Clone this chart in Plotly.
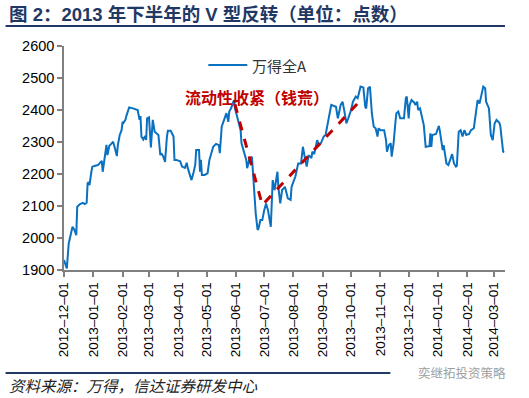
import plotly.graph_objects as go

# ---- data ----
dates = [
    "2012-12-01","2012-12-03","2012-12-04","2012-12-06","2012-12-08","2012-12-10","2012-12-12","2012-12-14",
    "2012-12-15","2012-12-18","2012-12-21","2012-12-23","2012-12-25","2012-12-26","2012-12-27","2012-12-28",
    "2012-12-30","2012-12-31",
    "2013-01-03","2013-01-06","2013-01-08","2013-01-10","2013-01-11","2013-01-13","2013-01-14","2013-01-15",
    "2013-01-16","2013-01-18","2013-01-20","2013-01-22","2013-01-24","2013-01-26","2013-01-27","2013-01-29",
    "2013-01-31",
    "2013-02-01","2013-02-02","2013-02-04","2013-02-05","2013-02-06","2013-02-08","2013-02-12","2013-02-17",
    "2013-02-19","2013-02-20","2013-02-21","2013-02-23","2013-02-25","2013-02-26","2013-02-27",
    "2013-03-01","2013-03-03","2013-03-05","2013-03-07","2013-03-09","2013-03-11","2013-03-13","2013-03-14",
    "2013-03-16","2013-03-18","2013-03-20","2013-03-21","2013-03-24","2013-03-27","2013-03-28","2013-03-30",
    "2013-04-03","2013-04-05","2013-04-08","2013-04-10","2013-04-11","2013-04-13","2013-04-15","2013-04-17",
    "2013-04-19","2013-04-20","2013-04-23","2013-04-24","2013-04-25","2013-04-26","2013-04-29",
    "2013-05-02","2013-05-04","2013-05-08","2013-05-11","2013-05-14","2013-05-15","2013-05-17","2013-05-19",
    "2013-05-22","2013-05-24","2013-05-25","2013-05-27","2013-05-29","2013-05-30","2013-05-31",
    "2013-06-03","2013-06-06","2013-06-07","2013-06-09","2013-06-12","2013-06-13","2013-06-15","2013-06-18",
    "2013-06-20","2013-06-22","2013-06-24","2013-06-25","2013-06-27","2013-06-29",
    "2013-07-01","2013-07-03","2013-07-05","2013-07-08","2013-07-10","2013-07-12","2013-07-15","2013-07-16",
    "2013-07-18","2013-07-20","2013-07-23","2013-07-26","2013-07-29","2013-07-30",
    "2013-08-03","2013-08-06","2013-08-09","2013-08-11","2013-08-13","2013-08-15","2013-08-17","2013-08-20",
    "2013-08-21","2013-08-23","2013-08-26","2013-08-28","2013-08-30",
    "2013-09-02","2013-09-04","2013-09-06","2013-09-09","2013-09-10","2013-09-15","2013-09-17","2013-09-20",
    "2013-09-22","2013-09-24","2013-09-26","2013-09-28",
    "2013-10-01","2013-10-03","2013-10-06","2013-10-08","2013-10-10","2013-10-11","2013-10-14","2013-10-16",
    "2013-10-17","2013-10-19","2013-10-21","2013-10-23","2013-10-25","2013-10-27","2013-10-29","2013-10-30",
    "2013-11-01","2013-11-05","2013-11-07","2013-11-08","2013-11-10","2013-11-12","2013-11-13","2013-11-15",
    "2013-11-17","2013-11-18","2013-11-20","2013-11-22","2013-11-26","2013-11-28","2013-11-29",
    "2013-12-01","2013-12-02","2013-12-04","2013-12-07","2013-12-08","2013-12-10","2013-12-11","2013-12-13",
    "2013-12-15","2013-12-17","2013-12-19","2013-12-23","2013-12-24","2013-12-25","2013-12-26","2013-12-30",
    "2014-01-01","2014-01-02","2014-01-03","2014-01-06","2014-01-07","2014-01-10","2014-01-12","2014-01-15",
    "2014-01-16","2014-01-18","2014-01-20","2014-01-21","2014-01-23","2014-01-25","2014-01-27","2014-01-29",
    "2014-01-31",
    "2014-02-03","2014-02-05","2014-02-08","2014-02-11","2014-02-12","2014-02-14","2014-02-16","2014-02-17",
    "2014-02-18","2014-02-20","2014-02-21","2014-02-24","2014-02-26","2014-02-28",
    "2014-03-02","2014-03-04","2014-03-07","2014-03-08","2014-03-11","2014-03-12",
]
values = [
    1931,1916,1905,1983,2015,2035,2025,2009,
    2098,2106,2110,2106,2110,2171,2175,2165,
    2207,2223,
    2226,2228,2235,2241,2207,2243,2265,2291,
    2259,2288,2294,2301,2280,2256,2290,2322,
    2337,
    2363,2360,2369,2381,2392,2408,2405,2400,
    2369,2381,2317,2308,2319,2306,2374,
    2377,2283,2369,2332,2326,2322,2259,2265,
    2256,2238,2317,2335,2335,2317,2244,2244,
    2240,2223,2219,2235,2219,2202,2181,2202,
    2229,2275,2275,2207,2244,2197,2197,
    2202,2244,2285,2294,2290,2265,2348,2363,
    2390,2363,2395,2406,2426,2431,2406,
    2374,2337,2296,2275,2244,2218,2244,2254,
    2150,2077,2025,2030,2056,2056,
    2087,2108,2087,2035,2181,2150,2207,2160,
    2108,2150,2160,2124,2119,2160,
    2192,2233,2233,2285,2252,2223,2259,2250,
    2270,2262,2306,2290,2296,
    2317,2322,2358,2405,2416,2410,2374,2416,
    2426,2395,2358,2374,
    2400,2426,2442,2437,2468,2473,2470,2410,
    2405,2468,2473,2390,2348,2343,2317,2343,
    2337,2337,2306,2270,2290,2296,2254,2296,
    2363,2390,2395,2374,2374,2437,2442,
    2374,2416,2431,2423,2416,2426,2400,2405,
    2374,2353,2285,2287,2327,2285,2322,2325,
    2343,2350,2335,2275,2290,2233,2228,2259,
    2262,2233,2223,2225,2332,2337,2317,2337,
    2322,
    2325,2337,2343,2410,2431,2420,2452,2468,
    2473,2468,2426,2405,2322,2306,
    2358,2369,2360,2350,2270,2267,
]

trend_dates = ["2013-05-31", "2013-06-29", "2013-10-11"]
trend_values = [2418, 2103, 2430]

tick_dates = ["2012-12-01","2013-01-01","2013-02-01","2013-03-01","2013-04-01","2013-05-01",
              "2013-06-01","2013-07-01","2013-08-01","2013-09-01","2013-10-01","2013-11-01",
              "2013-12-01","2014-01-01","2014-02-01","2014-03-01"]
tick_labels = [d.replace("-", "\u2013") for d in tick_dates]

series_name = "万得全A"
title_text = "图 2：2013 年下半年的 V 型反转（单位：点数）"
note_text = "流动性收紧（钱荒）"
source_text = "资料来源：万得，信达证券研发中心"
watermark_text = "奕继拓投资策略"

LINE_BLUE = "#0A70C0"

# ---- figure ----
fig = go.Figure()
fig.add_trace(go.Scatter(x=dates, y=values, mode="lines", name=series_name, showlegend=False,
                         line=dict(color=LINE_BLUE, width=2), hoverinfo="skip"))
fig.add_trace(go.Scatter(x=trend_dates, y=trend_values, mode="lines", showlegend=False,
                         line=dict(color="#C00000", width=3, dash="dash"), hoverinfo="skip"))

fig.add_annotation(x="2013-04-06", y=2442, text="<b>" + note_text + "</b>", showarrow=False,
                   font=dict(family="Noto Sans CJK SC", size=16, color="#C00000"),
                   xanchor="left", yanchor="middle")

# legend (drawn manually to match the sample length)
fig.add_shape(type="line", xref="paper", yref="paper", x0=0.3273, x1=0.4156, y0=0.915, y1=0.915,
              line=dict(color=LINE_BLUE, width=2))
fig.add_annotation(xref="paper", yref="paper", x=0.4224, y=0.915, text=series_name,
                   showarrow=False, xanchor="left", yanchor="middle",
                   font=dict(family="Noto Sans CJK SC", size=15, color="#333333"))

# title
fig.add_annotation(xref="paper", yref="paper", x=-0.13, y=1.1406, text="<b>" + title_text + "</b>",
                   showarrow=False, xanchor="left", yanchor="middle",
                   font=dict(family="Liberation Sans, Noto Sans CJK SC", size=18.5, color="#1F3864"))
# source
fig.add_annotation(xref="paper", yref="paper", x=-0.13, y=-0.5134, text=source_text,
                   showarrow=False, xanchor="left", yanchor="middle",
                   font=dict(family="Noto Sans CJK SC", size=15.5, color="#222222", style="italic"))
# watermark
fig.add_annotation(xref="paper", yref="paper", x=0.9026, y=-0.4598, text=watermark_text,
                   showarrow=False, xanchor="center", yanchor="middle",
                   font=dict(family="Noto Sans CJK SC", size=12.5, color="#A0A0A0"))

fig.add_shape(type="line", xref="paper", yref="paper", x0=-0.1325, x1=1.0, y0=1.0893, y1=1.0893,
              line=dict(color="#1F3864", width=2), layer="above")
fig.add_shape(type="line", xref="paper", yref="paper", x0=-0.1325, x1=0.74, y0=-0.4598, y1=-0.4598,
              line=dict(color="#1F3864", width=2), layer="above")

fig.update_layout(
    width=529, height=398,
    margin=dict(l=63.5, r=24, t=46, b=128),
    paper_bgcolor="white", plot_bgcolor="white",
    font=dict(family="Liberation Sans, Noto Sans CJK SC", color="black"),
    showlegend=False, hovermode=False,
)
fig.update_xaxes(type="date", range=["2012-12-01", "2014-03-13"],
                 tickmode="array", tickvals=tick_dates, ticktext=tick_labels, tickangle=-90,
                 tickfont=dict(size=13.5, color="black"),
                 showgrid=False, zeroline=False, showline=True, linecolor="#808080", linewidth=1.5,
                 ticks="outside", ticklen=5, tickcolor="#808080", tickwidth=1.5)
fig.update_yaxes(range=[1900, 2600], dtick=100, tickfont=dict(size=14.5, color="black"),
                 showgrid=False, zeroline=False, showline=True, linecolor="#808080", linewidth=1.5,
                 ticks="outside", ticklen=5, tickcolor="#808080", tickwidth=1.5)

fig.write_html("out.html", config={"displayModeBar": False},
               post_script="document.body.style.margin='0';")
